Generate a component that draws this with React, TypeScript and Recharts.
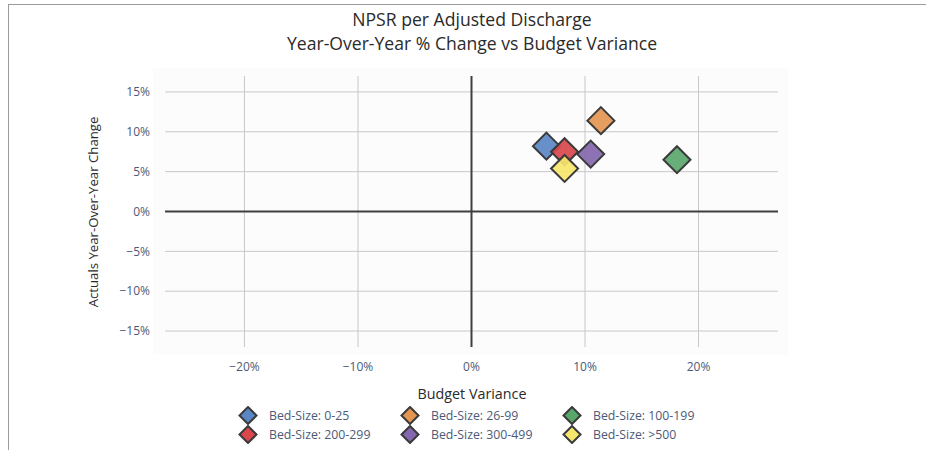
import React from "react";
import {
  ScatterChart,
  Scatter,
  XAxis,
  YAxis,
  CartesianGrid,
  ReferenceLine,
} from "recharts";

const seriesNames = [
  "Bed-Size: 0-25",
  "Bed-Size: 26-99",
  "Bed-Size: 100-199",
  "Bed-Size: 200-299",
  "Bed-Size: 300-499",
  "Bed-Size: >500",
];
const seriesColors = ["#5a86c6", "#e39552", "#5aa76c", "#d9474d", "#8467ae", "#f6e66b"];
const budgetVariance = [6.6, 11.4, 18.1, 8.2, 10.5, 8.2];
const yoyChange = [8.2, 11.4, 6.5, 7.5, 7.2, 5.4];

const xTicks = [-20, -10, 0, 10, 20];
const yTicks = [-15, -10, -5, 0, 5, 10, 15];

const FONT = "'Open Sans', sans-serif";
const TICK_COLOR = "#4b5a78";

const fmt = (v: number) => (v < 0 ? "\u2212" + Math.abs(v) + "%" : v + "%");

const Diamond = (props: any) => {
  const { cx, cy, fill, r = 13.5, opacity = 0.92 } = props;
  if (cx == null || cy == null) return null;
  const d = `M${cx},${cy - r} L${cx + r},${cy} L${cx},${cy + r} L${cx - r},${cy} Z`;
  return <path d={d} fill={fill} fillOpacity={opacity} stroke="#3a3a3a" strokeWidth={2} strokeLinejoin="miter" />;
};

const hGen = (args: any) => {
  const s = args?.yAxis?.scale;
  if (!s) return [];
  const fn = typeof s === "function" ? s : s.map ? (v: number) => s.map(v) : null;
  return fn ? yTicks.map((t) => fn(t)) : [];
};
const vGen = (args: any) => {
  const s = args?.xAxis?.scale;
  if (!s) return [];
  const fn = typeof s === "function" ? s : s.map ? (v: number) => s.map(v) : null;
  return fn ? xTicks.map((t) => fn(t)) : [];
};

export default function App() {
  return (
    <div style={{ position: "absolute", left: 0, top: 0, width: 926, height: 450, background: "#fff", fontFamily: FONT, overflow: "hidden" }}>
      <div
        style={{
          position: "absolute",
          left: 8,
          top: 4,
          width: 918,
          height: 446,
          borderTop: "1.5px solid #9c9c96",
          borderLeft: "1.5px solid #9c9c96",
          boxSizing: "border-box",
        }}
      />
      <div style={{ position: "absolute", left: 153, top: 68, width: 635, height: 287, background: "#fcfcfc" }} />
      <div
        style={{
          position: "absolute",
          left: 0,
          top: 7,
          width: 944,
          textAlign: "center",
          fontSize: 17.6,
          lineHeight: "24px",
          color: "#2a2a2a",
        }}
      >
        NPSR per Adjusted Discharge
        <br />
        Year-Over-Year % Change vs Budget Variance
      </div>
      <div style={{ position: "absolute", left: 0, top: 0 }}>
        <ScatterChart width={926} height={450} margin={{ top: 76, right: 148, bottom: 73, left: 105 }}>
          <CartesianGrid
            stroke="#c8c8c8"
            strokeWidth={1}
            horizontalCoordinatesGenerator={hGen}
            verticalCoordinatesGenerator={vGen}
          />
          <XAxis
            type="number"
            dataKey="x"
            domain={[-27, 27]}
            ticks={xTicks}
            tickFormatter={fmt}
            axisLine={false}
            tickLine={false}
            tickSize={0}
            tickMargin={15}
            height={30}
            allowDataOverflow
            tick={{ fill: TICK_COLOR, fontSize: 12, fontFamily: FONT }}
          />
          <YAxis
            type="number"
            dataKey="y"
            domain={[-17, 17]}
            ticks={yTicks}
            tickFormatter={fmt}
            axisLine={false}
            tickLine={false}
            tickSize={0}
            tickMargin={15}
            width={60}
            allowDataOverflow
            tick={{ fill: TICK_COLOR, fontSize: 12, fontFamily: FONT }}
          />
          <ReferenceLine x={0} stroke="#3f3f3f" strokeWidth={2} />
          <ReferenceLine y={0} stroke="#3f3f3f" strokeWidth={2} />
          {seriesNames.map((name, i) => (
            <Scatter
              key={name}
              name={name}
              data={[{ x: budgetVariance[i], y: yoyChange[i] }]}
              fill={seriesColors[i]}
              shape={<Diamond />}
              isAnimationActive={false}
            />
          ))}
        </ScatterChart>
      </div>
      <div
        style={{
          position: "absolute",
          left: 0,
          width: 944,
          top: 384,
          textAlign: "center",
          fontSize: 14.3,
          color: "#2a2a2a",
        }}
      >
        Budget Variance
      </div>
      <div
        style={{
          position: "absolute",
          left: 93,
          top: 212,
          transform: "translate(-50%, -50%) rotate(-90deg)",
          whiteSpace: "nowrap",
          fontSize: 13.2,
          color: "#2a2a2a",
        }}
      >
        Actuals Year-Over-Year Change
      </div>
      {seriesNames.map((name, i) => {
        const col = i % 3;
        const row = Math.floor(i / 3);
        const left = 237 + col * 162;
        const top = 406 + row * 19;
        return (
          <div key={name} style={{ position: "absolute", left, top, height: 19, display: "flex", alignItems: "center" }}>
            <svg width={22} height={19}>
              <Diamond cx={11} cy={9.5} r={8.5} fill={seriesColors[i]} opacity={1} />
            </svg>
            <span style={{ marginLeft: 10, fontSize: 12.3, color: TICK_COLOR }}>{name}</span>
          </div>
        );
      })}
    </div>
  );
}
